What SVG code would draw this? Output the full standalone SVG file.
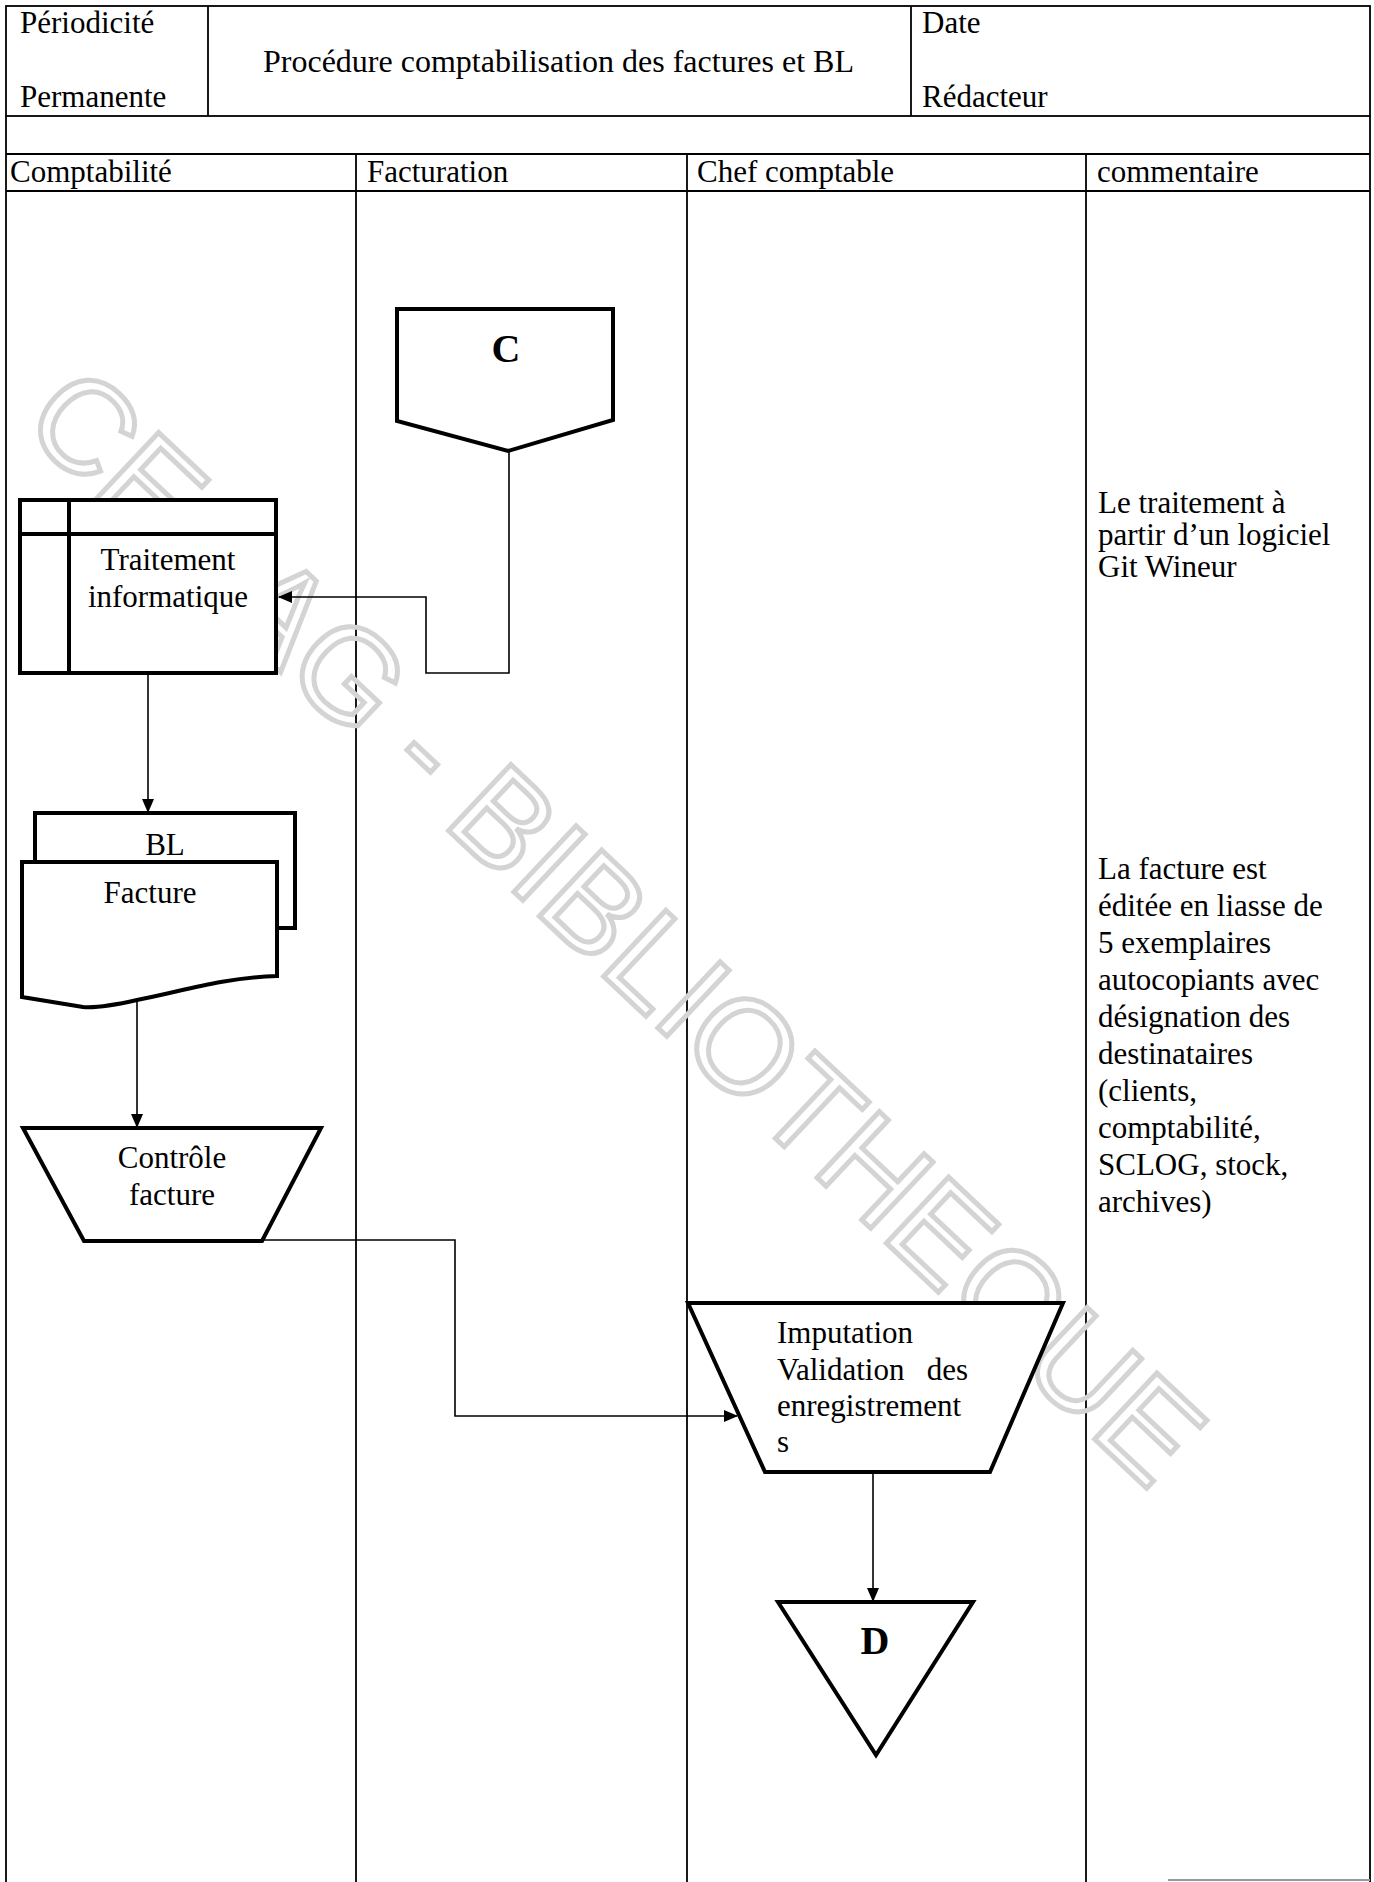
<svg xmlns="http://www.w3.org/2000/svg" width="1374" height="1882" viewBox="0 0 1374 1882">
<defs>
<style>
.t{font-family:"Liberation Serif","Times New Roman",serif;font-size:31px;fill:#000}
.ttl{font-size:32px}
.b{font-family:"Liberation Serif","Times New Roman",serif;font-size:40px;font-weight:bold;fill:#000}
.m{text-anchor:middle}
.grid{stroke:#000;stroke-width:1.8;fill:none}
.shape{stroke:#000;stroke-width:4;fill:#fff;stroke-linejoin:miter}
.conn{stroke:#000;stroke-width:1.6;fill:none}
.wm{font-family:"Liberation Sans",Arial,sans-serif;font-size:132px;fill:none;stroke:#d4d4d4;stroke-width:5}
</style>
<marker id="arr" markerUnits="userSpaceOnUse" markerWidth="14" markerHeight="12" refX="13" refY="6" orient="auto">
<path d="M0,0 L14,6 L0,12 Z" fill="#000"/>
</marker>
</defs>
<rect width="1374" height="1882" fill="#fff"/>

<g id="table">
<rect x="6" y="6" width="1364" height="110" class="grid"/>
<line x1="208" y1="6" x2="208" y2="116" class="grid"/>
<line x1="911" y1="6" x2="911" y2="116" class="grid"/>
<line x1="6" y1="154" x2="1370" y2="154" class="grid"/>
<line x1="6" y1="191" x2="1370" y2="191" class="grid"/>
<line x1="6" y1="116" x2="6" y2="1882" class="grid"/>
<line x1="1370" y1="116" x2="1370" y2="1882" class="grid"/>
<line x1="356" y1="154" x2="356" y2="1882" class="grid"/>
<line x1="687" y1="154" x2="687" y2="1882" class="grid"/>
<line x1="1086" y1="154" x2="1086" y2="1882" class="grid"/>
<line x1="1168" y1="1880" x2="1370" y2="1880" stroke="#999" stroke-width="2"/>
<text class="t" x="20" y="33">Périodicité</text>
<text class="t" x="20" y="107">Permanente</text>
<text class="t ttl" x="263" y="72">Procédure comptabilisation des factures et BL</text>
<text class="t" x="922" y="33">Date</text>
<text class="t" x="922" y="107">Rédacteur</text>
<text class="t" x="10" y="182">Comptabilité</text>
<text class="t" x="367" y="182">Facturation</text>
<text class="t" x="697" y="182">Chef comptable</text>
<text class="t" x="1097" y="182">commentaire</text>
</g>

<text class="wm m" x="585" y="959" transform="rotate(43.3 585 959)">CESAG - BIBLIOTHEQUE</text>

<g id="connectors">
<path class="conn" d="M509,451 V673 H426 V597 H279" marker-end="url(#arr)"/>
<path class="conn" d="M148,673 V812" marker-end="url(#arr)"/>
<path class="conn" d="M137,1001 V1127" marker-end="url(#arr)"/>
<path class="conn" d="M262,1240 H455 V1416 H737" marker-end="url(#arr)"/>
<path class="conn" d="M873,1472 V1601" marker-end="url(#arr)"/>
</g>

<g id="node-C">
<polygon class="shape" points="397,309 613,309 613,420 508,451 397,421"/>
<text class="b m" x="506" y="362">C</text>
</g>

<g id="node-traitement">
<rect class="shape" x="20" y="500" width="256" height="173"/>
<line x1="69" y1="500" x2="69" y2="673" stroke="#000" stroke-width="4"/>
<line x1="20" y1="534" x2="276" y2="534" stroke="#000" stroke-width="4"/>
<text class="t m" x="168" y="570">Traitement</text>
<text class="t m" x="168" y="607">informatique</text>
</g>

<g id="node-BL-facture">
<rect class="shape" x="35" y="813" width="260" height="115"/>
<text class="t m" x="165" y="855">BL</text>
<path class="shape" d="M22,862 H277 V976 C220,978 180,992 137,1000 C115,1005 95,1008 83,1007 L22,997 Z"/>
<text class="t m" x="150" y="903">Facture</text>
</g>

<g id="node-controle">
<polygon class="shape" points="23,1128 321,1128 262,1241 84,1241"/>
<text class="t m" x="172" y="1168">Contrôle</text>
<text class="t m" x="172" y="1205">facture</text>
</g>

<g id="node-imputation">
<polygon class="shape" points="688,1303 1063,1303 990,1472 765,1472"/>
<text class="t" x="777" y="1343">Imputation</text>
<text class="t" x="777" y="1380">Validation</text>
<text class="t" x="968" y="1380" text-anchor="end">des</text>
<text class="t" x="777" y="1416">enregistrement</text>
<text class="t" x="777" y="1452">s</text>
</g>

<g id="node-D">
<polygon class="shape" points="778,1602 973,1602 876,1755"/>
<text class="b m" x="875" y="1654">D</text>
</g>

<g id="comments">
<text class="t" x="1098" y="513">Le traitement à</text>
<text class="t" x="1098" y="545">partir d’un logiciel</text>
<text class="t" x="1098" y="577">Git Wineur</text>
<text class="t" x="1098" y="879">La facture est</text>
<text class="t" x="1098" y="916">éditée en liasse de</text>
<text class="t" x="1098" y="953">5 exemplaires</text>
<text class="t" x="1098" y="990">autocopiants avec</text>
<text class="t" x="1098" y="1027">désignation des</text>
<text class="t" x="1098" y="1064">destinataires</text>
<text class="t" x="1098" y="1101">(clients,</text>
<text class="t" x="1098" y="1138">comptabilité,</text>
<text class="t" x="1098" y="1175">SCLOG, stock,</text>
<text class="t" x="1098" y="1212">archives)</text>
</g>
</svg>
